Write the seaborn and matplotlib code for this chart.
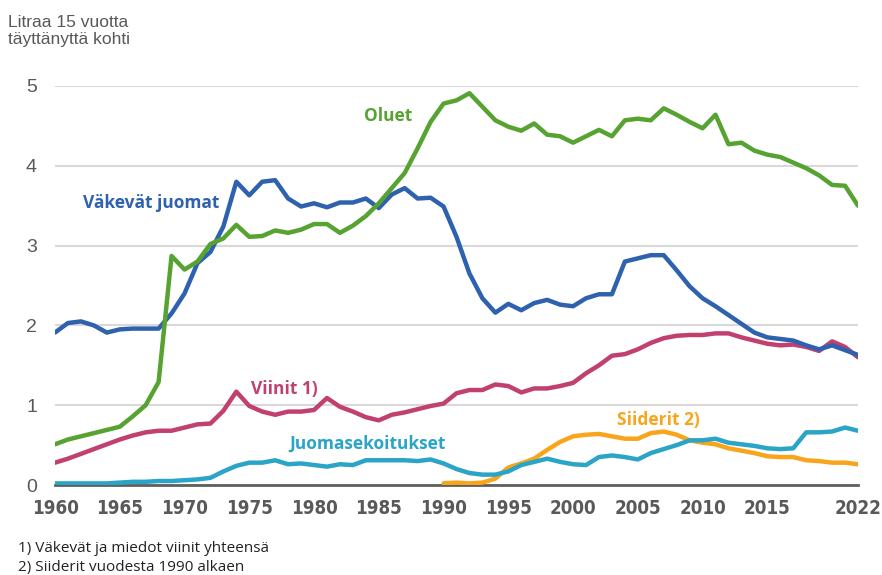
import numpy as np
import pandas as pd
import matplotlib.pyplot as plt
import seaborn as sns

# Data (litres per person aged 15+)
years = list(range(1960, 2023))

oluet = [0.51, 0.57, 0.61, 0.65, 0.69, 0.73, 0.86, 1.00, 1.29, 2.87,
         2.70, 2.80, 3.02, 3.09, 3.26, 3.11, 3.12, 3.19, 3.16, 3.20,
         3.27, 3.27, 3.16, 3.25, 3.37, 3.53, 3.72, 3.91, 4.22, 4.55,
         4.78, 4.82, 4.91, 4.74, 4.57, 4.49, 4.44, 4.53, 4.39, 4.37,
         4.29, 4.37, 4.45, 4.37, 4.57, 4.59, 4.57, 4.72, 4.64, 4.55,
         4.47, 4.64, 4.27, 4.29, 4.19, 4.14, 4.11, 4.04, 3.97, 3.88,
         3.76, 3.75, 3.50]

vakevat = [1.91, 2.03, 2.05, 2.00, 1.91, 1.95, 1.96, 1.96, 1.96, 2.15,
           2.40, 2.78, 2.92, 3.24, 3.80, 3.63, 3.80, 3.82, 3.59, 3.49,
           3.53, 3.48, 3.54, 3.54, 3.59, 3.47, 3.64, 3.72, 3.59, 3.60,
           3.49, 3.11, 2.65, 2.34, 2.16, 2.27, 2.19, 2.28, 2.32, 2.26,
           2.24, 2.34, 2.39, 2.39, 2.80, 2.84, 2.88, 2.88, 2.69, 2.49,
           2.34, 2.24, 2.13, 2.02, 1.91, 1.85, 1.83, 1.81, 1.75, 1.70,
           1.75, 1.69, 1.63]

viinit = [0.28, 0.33, 0.39, 0.45, 0.51, 0.57, 0.62, 0.66, 0.68, 0.68,
          0.72, 0.76, 0.77, 0.93, 1.17, 0.99, 0.92, 0.88, 0.92, 0.92,
          0.94, 1.09, 0.98, 0.92, 0.85, 0.81, 0.88, 0.91, 0.95, 0.99,
          1.02, 1.15, 1.19, 1.19, 1.26, 1.24, 1.16, 1.21, 1.21, 1.24,
          1.28, 1.40, 1.50, 1.62, 1.64, 1.70, 1.78, 1.84, 1.87, 1.88,
          1.88, 1.90, 1.90, 1.85, 1.81, 1.77, 1.75, 1.76, 1.73, 1.68,
          1.80, 1.73, 1.60]

juomasek = [0.02, 0.02, 0.02, 0.02, 0.02, 0.03, 0.04, 0.04, 0.05, 0.05,
            0.06, 0.07, 0.09, 0.17, 0.24, 0.28, 0.28, 0.31, 0.26, 0.27,
            0.25, 0.23, 0.26, 0.25, 0.31, 0.31, 0.31, 0.31, 0.30, 0.32,
            0.27, 0.20, 0.15, 0.13, 0.13, 0.17, 0.25, 0.29, 0.33, 0.29,
            0.26, 0.25, 0.35, 0.37, 0.35, 0.32, 0.40, 0.45, 0.50, 0.56,
            0.56, 0.58, 0.53, 0.51, 0.49, 0.46, 0.45, 0.46, 0.66, 0.66,
            0.67, 0.72, 0.68]

siider_years = list(range(1990, 2023))
siiderit = [0.02, 0.03, 0.02, 0.03, 0.08, 0.22, 0.27, 0.33, 0.44, 0.54,
            0.61, 0.63, 0.64, 0.61, 0.58, 0.58, 0.65, 0.67, 0.63, 0.56,
            0.53, 0.51, 0.46, 0.43, 0.40, 0.36, 0.35, 0.35, 0.31, 0.30,
            0.28, 0.28, 0.26]

series = ["Oluet", "Väkevät juomat", "Viinit", "Juomasekoitukset", "Siiderit"]
colors = ["#56a331", "#2e62ae", "#c1406f", "#2aa4c7", "#f9a51c"]

frames = [
    pd.DataFrame({"year": years, "value": oluet, "series": "Oluet"}),
    pd.DataFrame({"year": years, "value": vakevat, "series": "Väkevät juomat"}),
    pd.DataFrame({"year": years, "value": viinit, "series": "Viinit"}),
    pd.DataFrame({"year": years, "value": juomasek, "series": "Juomasekoitukset"}),
    pd.DataFrame({"year": siider_years, "value": siiderit, "series": "Siiderit"}),
]
df = pd.concat(frames, ignore_index=True)

sns.set_style("white")
plt.rcParams['font.family'] = ['Liberation Sans', 'DejaVu Sans']

fig = plt.figure(figsize=(8.82, 5.75), dpi=100)
ax = fig.add_axes([55 / 882, 1 - 485 / 575, (858 - 55) / 882, (485 - 86) / 575])

# draw the small series first so the big ones sit on top
order = ["Siiderit", "Juomasekoitukset", "Viinit", "Väkevät juomat", "Oluet"]
palette = dict(zip(series, colors))
for name in order:
    sns.lineplot(data=df[df["series"] == name], x="year", y="value",
                 color=palette[name], linewidth=3.2, ax=ax, legend=False,
                 solid_capstyle="round", solid_joinstyle="round")

ax.set_xlim(1960, 2022)
ax.set_ylim(0, 5)
ax.set_xlabel("")
ax.set_ylabel("")

# gridlines
ax.set_yticks([0, 1, 2, 3, 4, 5])
ax.yaxis.grid(True, color="#d9d9d9", linewidth=1.5)
ax.set_axisbelow(True)
for side in ["top", "right", "left"]:
    ax.spines[side].set_visible(False)
ax.spines["bottom"].set_color("#5f5f5f")
ax.spines["bottom"].set_linewidth(2)
ax.spines["bottom"].set_zorder(1)

ax.tick_params(axis="y", length=0, pad=13, labelsize=14, labelcolor="#595959")
xticks = [1960, 1965, 1970, 1975, 1980, 1985, 1990, 1995, 2000, 2005, 2010, 2015, 2022]
ax.set_xticks(xticks)
ax.set_xticklabels([str(x) for x in xticks],
                   fontdict={"family": ["DejaVu Sans"], "stretch": "condensed",
                             "weight": "bold", "size": 13.5})
ax.tick_params(axis="x", length=0, pad=10, labelcolor="#595959")

# series labels
lab_font = ["Open Sans", "DejaVu Sans"]
ax.text(1967.4, 3.53, "Väkevät juomat", color=colors[1], fontsize=12.5,
        fontweight="bold", family=lab_font, ha="center", va="center")
ax.text(1985.7, 4.62, "Oluet", color=colors[0], fontsize=12.5,
        fontweight="bold", family=lab_font, ha="center", va="center")
ax.text(1977.7, 1.2, "Viinit 1)", color=colors[2], fontsize=12.5,
        fontweight="bold", family=lab_font, ha="center", va="center")
ax.text(1984.1, 0.52, "Juomasekoitukset", color=colors[3], fontsize=12.5,
        fontweight="bold", family=lab_font, ha="center", va="center")
ax.text(2006.6, 0.81, "Siiderit 2)", color=colors[4], fontsize=12.5,
        fontweight="bold", family=lab_font, ha="center", va="center")

# unit title and footnotes
fig.text(8 / 882, 1 - 31 / 575, "Litraa 15 vuotta\ntäyttänyttä kohti",
         fontsize=12.5, color="#595959", ha="left", va="center", linespacing=1.2)
fig.text(18 / 882, 1 - 549 / 575, "1) Väkevät ja miedot viinit yhteensä",
         fontsize=11, color="#222222", family=lab_font, ha="left", va="center")
fig.text(18 / 882, 1 - 568 / 575, "2) Siiderit vuodesta 1990 alkaen",
         fontsize=11, color="#222222", family=lab_font, ha="left", va="center")

fig.savefig("out.png", dpi=100)
